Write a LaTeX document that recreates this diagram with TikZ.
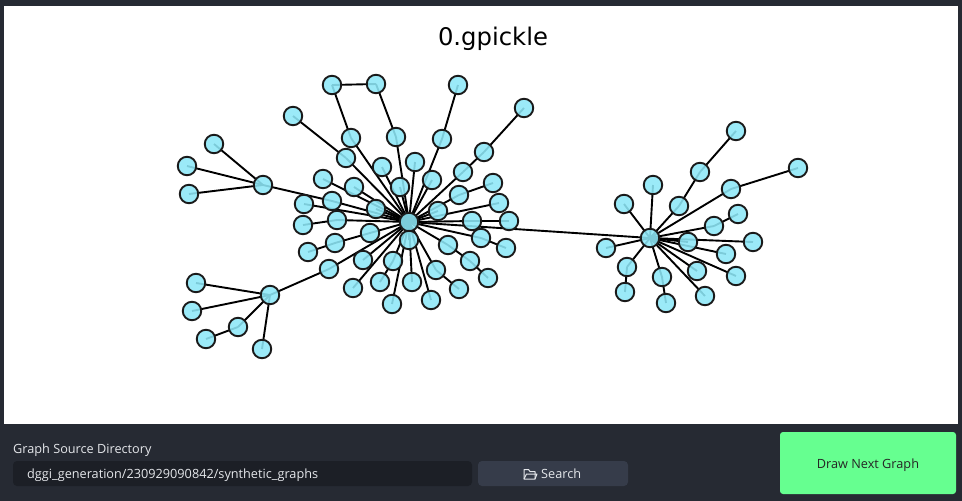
\documentclass[tikz,border=0pt]{standalone}
\usepackage{fontspec}
\setmainfont{DejaVu Sans}
\newfontfamily\uifont{Open Sans}
\pgfdeclarelayer{bg}
\pgfsetlayers{bg,main}
\definecolor{uibg}{HTML}{262A33}
\definecolor{inputbg}{HTML}{1C1F26}
\definecolor{btnbg}{HTML}{363C4A}
\definecolor{greenbtn}{HTML}{66FF90}
\definecolor{nodefill}{HTML}{8EE8F8}
\definecolor{nodeline}{HTML}{1A1A1A}
\definecolor{uitext}{HTML}{E4E6EA}
\begin{document}
\begin{tikzpicture}[x=1pt,y=-1pt,
  gnode/.style={circle,draw=nodeline,line width=1.9pt,fill=nodefill,fill opacity=0.88,draw opacity=1,minimum size=18.5pt,inner sep=0pt},
  gedge/.style={line width=1.9pt,black},
  uilabel/.style={inner sep=0pt,font=\uifont\fontsize{12.7}{14}\selectfont}]
\useasboundingbox (0,0) rectangle (962,501);
\begin{pgfonlayer}{bg}
\fill[uibg] (0,0) rectangle (962,501);
\fill[white] (4,6) rectangle (958,424);
\end{pgfonlayer}
\node[anchor=base,inner sep=0pt,font=\fontsize{24.3}{28}\selectfont] (title) at (493,45) {0.gpickle};
% main hub
\node[gnode] (A) at (409,222) {};
\foreach \n/\x/\y in {a1/332/85,a2/376/84,a3/351/138,a4/396/137,a5/458/85,a6/442/139,
 a7/524/108,a8/484/152,a9/463/172,a10/293/116,a11/346/158,a12/415/162,a13/382/167,
 a14/323/179,a15/354/187,a16/400/187,a17/432/180,a18/493/183,a19/459/195,a20/332/201,
 a21/304/204,a22/376/209,a23/438/211,a24/499/203,a25/337/220,a26/303/225,a27/472/221,
 a28/509/221,a29/370/233,a30/335/243,a31/308/252,a32/409/240,a33/481/238,a34/506/248,
 a35/448/245,a36/470/261,a37/488/278,a38/363/260,a39/393/261,a40/329/269,a41/436/270,
 a42/353/288,a43/380/282,a44/412/282,a45/459/289,a46/431/300,a47/392/304}
  {\node[gnode] (\n) at (\x,\y) {};}
% left hubs
\node[gnode] (B) at (263,185) {};
\foreach \n/\x/\y in {b1/214/144,b2/187/166,b3/189/194}{\node[gnode] (\n) at (\x,\y) {};}
\node[gnode] (C) at (270,295) {};
\foreach \n/\x/\y in {c1/196/283,c2/192/311,c3/206/339,c4/238/327,c5/262/349}{\node[gnode] (\n) at (\x,\y) {};}
% right hub
\node[gnode] (D) at (650,238) {};
\foreach \n/\x/\y in {d1/736/131,d2/700/172,d3/679/206,d4/798/168,d5/731/189,d6/738/214,
 d7/714/226,d8/653/185,d9/624/204,d10/606/248,d11/688/242,d12/753/242,d13/726/254,
 d14/627/267,d15/625/292,d16/662/277,d17/666/303,d18/697/271,d19/705/296,d20/736/276}
  {\node[gnode] (\n) at (\x,\y) {};}
\begin{pgfonlayer}{bg}
\foreach \u/\v in {a1/a2,a1/a3,a3/A,a2/a4,a4/A,a5/a6,a6/A,a7/a8,a8/a9,a9/A,a10/a11,a11/A,
 a12/A,a13/A,a14/A,a15/A,a16/A,a17/A,a18/a19,a19/A,B/a20,a20/A,a21/A,a22/A,a23/A,a24/A,
 a26/a25,a25/A,a28/a27,a27/A,a31/a30,a30/a29,a29/A,a32/A,a34/a33,a33/A,a37/a36,a36/a35,
 a35/A,a38/A,a39/A,C/a40,a40/A,a41/A,a42/A,a43/a39,a44/A,a45/a41,a46/A,a47/A,
 b1/B,b2/B,b3/B,c1/C,c2/C,c3/c4,c4/C,c5/C,A/D,
 d1/d2,d2/d3,d3/D,d4/d5,d5/D,d6/d7,d7/D,d8/D,d9/D,d10/D,d11/D,d12/D,d13/D,d15/d14,d14/D,
 d17/d16,d16/D,d18/D,d19/D,d20/D}
  {\draw[gedge] (\u.center) -- (\v.center);}
\end{pgfonlayer}
% UI
\node[uilabel,anchor=base west,text=uitext] (srclabel) at (13,453) {Graph Source Directory};
\fill[inputbg,rounded corners=4pt] (13,461) rectangle (472,486);
\node[uilabel,anchor=base west,text=uitext] (path) at (27,478) {dggi\_generation/230929090842/synthetic\_graphs};
\fill[btnbg,rounded corners=4pt] (478,461) rectangle (628,486);
\draw[uitext,line width=1pt,line join=round] (524,469.5) -- (528.5,469.5) -- (530,471.5) -- (535,471.5) -- (535,479) -- (524,479) -- cycle;
\draw[uitext,line width=1pt,line join=round] (524,479) -- (526.5,474) -- (537,474) -- (535,479);
\node[uilabel,anchor=base west,text=uitext] (search) at (541,478) {Search};
\fill[greenbtn,rounded corners=3pt] (780,432) rectangle (956,494);
\node[uilabel,anchor=base,text=black!85] (drawbtn) at (868,468) {Draw Next Graph};
\end{tikzpicture}
\end{document}
